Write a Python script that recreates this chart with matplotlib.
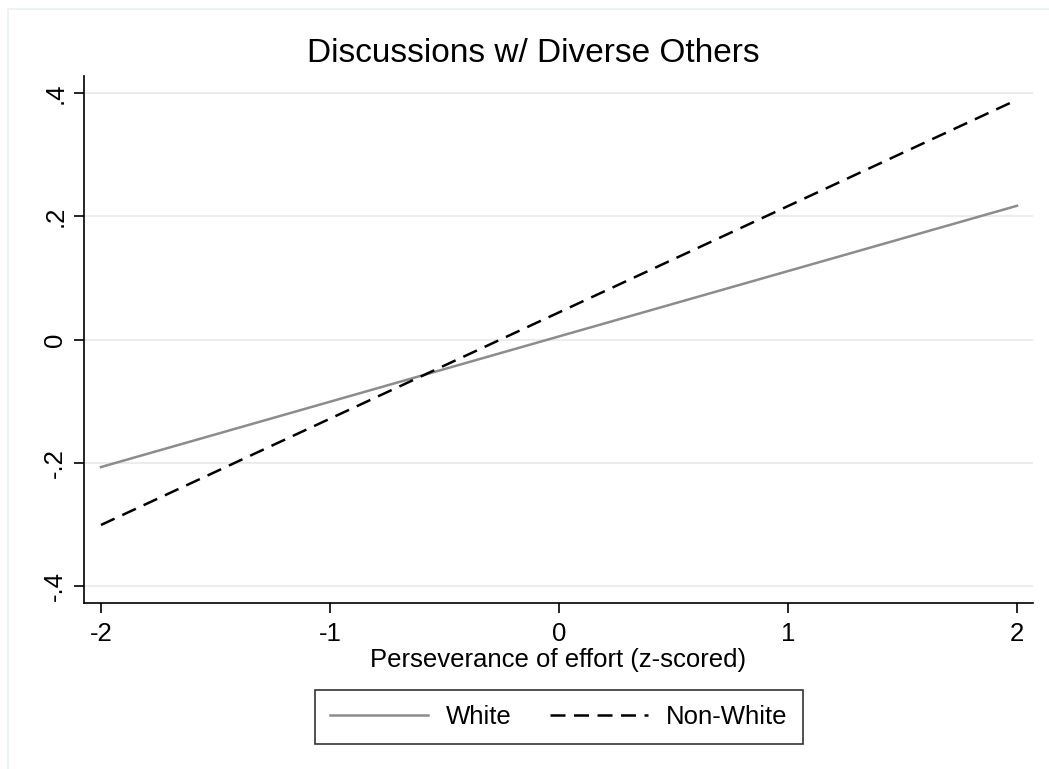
import matplotlib
matplotlib.use("Agg")
import matplotlib.pyplot as plt
from matplotlib.patches import Rectangle
from matplotlib.lines import Line2D

plt.rcParams['font.family'] = ['Liberation Sans', 'DejaVu Sans']

# Predicted values at the ends of the effort range
x_vals = [-2, 2]
white = [-0.207, 0.217]
non_white = [-0.301, 0.389]

x_ticks = [-2, -1, 0, 1, 2]
x_tick_labels = ["-2", "-1", "0", "1", "2"]
y_ticks = [-0.4, -0.2, 0, 0.2, 0.4]
y_tick_labels = ["-.4", "-.2", "0", ".2", ".4"]

W, H = 1049, 769
fig = plt.figure(figsize=(W / 100, H / 100), dpi=100)
fig.patch.set_facecolor("white")

# faint outer frame
fig.add_artist(Rectangle((7.5 / W, -0.1), 1.2, 1 - 8.5 / H + 0.1,
                         transform=fig.transFigure, fill=False,
                         edgecolor="#eaf0f0", lw=1.2))

ax = fig.add_axes([84 / W, (H - 603) / H, (1033 - 84) / W, (603 - 76) / H])
ax.set_xlim(-2.074, 2.07)
ax.set_ylim(-0.4276, 0.4276)

for yt in y_ticks:
    ax.axhline(yt, color="#eaeaea", lw=1.3, zorder=0)

ax.plot(x_vals, white, color="#8c8c8c", lw=1.8, label="White", zorder=3)
ax.plot(x_vals, non_white, color="black", lw=1.8, dashes=(6.0, 3.4),
        label="Non-White", zorder=3)

for s in ["top", "right"]:
    ax.spines[s].set_visible(False)
for s in ["left", "bottom"]:
    ax.spines[s].set_linewidth(1.2)
    ax.spines[s].set_color("black")

ax.set_xticks(x_ticks)
ax.set_xticklabels(x_tick_labels)
ax.set_yticks(y_ticks)
ax.set_yticklabels(y_tick_labels, rotation=90, va="center")
ax.tick_params(axis="x", length=7, width=1.2, labelsize=18.5, pad=7)
ax.tick_params(axis="y", length=7, width=1.2, labelsize=18.5, pad=5)

ax.set_xlabel("Perseverance of effort (z-scored)", fontsize=18.5, labelpad=1)
fig.text(533 / W, (H - 54) / H, "Discussions w/ Diverse Others",
         ha="center", va="center", fontsize=24)

handles = [Line2D([], [], color="#8c8c8c", lw=1.8),
           Line2D([], [], color="black", lw=1.8, dashes=(6.0, 3.4))]
leg = fig.legend(handles, ["White", "Non-White"], loc="center",
                 bbox_to_anchor=(559 / W, (H - 717) / H), ncol=2,
                 fontsize=18.5, frameon=True, fancybox=False,
                 handlelength=3.8, handletextpad=0.7, columnspacing=1.5,
                 borderpad=0.6, borderaxespad=0)
leg.get_frame().set_edgecolor("black")
leg.get_frame().set_linewidth(1.2)

fig.savefig("out.png", dpi=100, facecolor="white")
